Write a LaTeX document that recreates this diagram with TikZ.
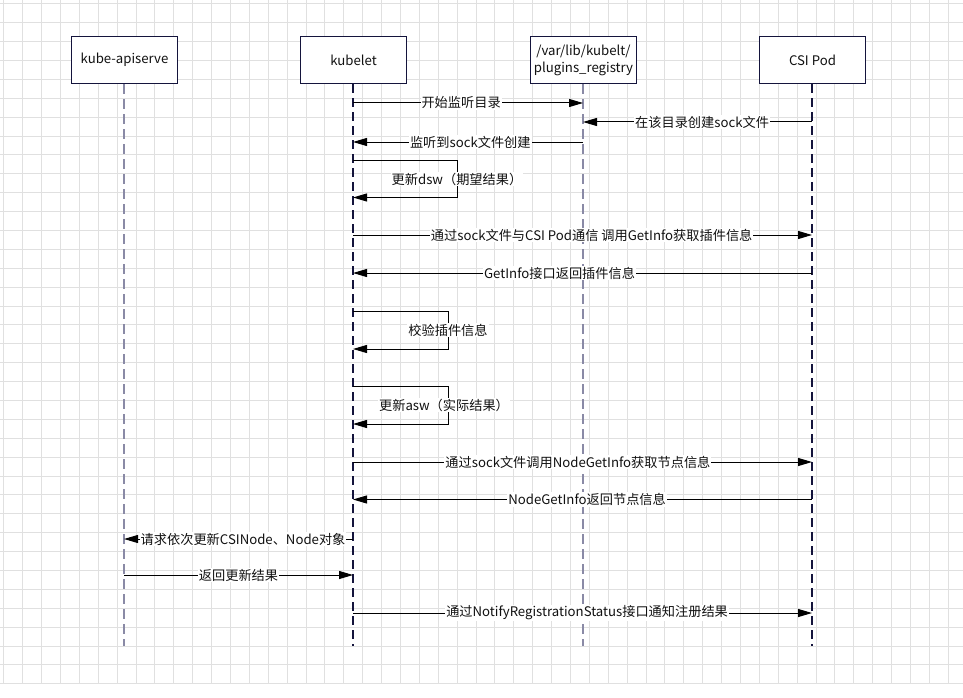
\documentclass[tikz,border=0pt]{standalone}
\usepackage{fontspec}
\setmainfont{Noto Sans CJK SC}
\usetikzlibrary{arrows.meta}
\definecolor{gridc}{HTML}{E0E0E0}
\definecolor{navy}{HTML}{14143C}
\definecolor{lifegray}{HTML}{8A8AA6}
\definecolor{txt}{HTML}{111111}
\tikzset{
  x=1pt, y=-1pt,
  actor/.style={draw=navy, line width=1.2pt, fill=white, minimum width=106pt, minimum height=47pt, inner sep=2pt, text=txt, font=\fontsize{13.2pt}{17pt}\selectfont, align=center},
  lifenavy/.style={draw=navy, line width=1.2pt, dash pattern=on 9pt off 5pt},
  lifegrey/.style={draw=lifegray, line width=2pt, dash pattern=on 10pt off 5pt},
  msg/.style={draw=black, line width=1pt, -{Triangle[length=14pt,width=8pt]}},
  lbl/.style={fill=white, inner sep=1pt, text=txt, font=\fontsize{13.2pt}{15pt}\selectfont},
}
\begin{document}
\begin{tikzpicture}
\useasboundingbox (0,0) rectangle (963,698);
\fill[white] (0,0) rectangle (963,698);
% grid
\foreach \k in {0,...,50} {
  \draw[gridc, line width=1pt] ({3.8+\k*18.89},0) -- ({3.8+\k*18.89},684);
}
\foreach \k in {0,...,36} {
  \draw[gridc, line width=1pt] (0,{3.8+\k*18.89}) -- (963,{3.8+\k*18.89});
}
% actors
\node[actor] (api) at (124.5,60) {kube-apiserve};
\node[actor] (kub) at (353.5,60) {kubelet};
\node[actor] (plg) at (583.5,60) {/var/lib/kubelt/\\plugins\_registry};
\node[actor] (csi) at (812.5,60) {CSI Pod};
% lifeline ends
\coordinate (apiE) at (124,646);
\coordinate (kubE) at (353,646);
\coordinate (plgE) at (583,646);
\coordinate (csiE) at (812,646);
\draw[lifegrey] (api.south -| apiE) -- (apiE);
\draw[lifenavy] (kub.south -| kubE) -- (kubE);
\draw[lifegrey] (plg.south -| plgE) -- (plgE);
\draw[lifenavy] (csi.south -| csiE) -- (csiE);
% message anchor points
\coordinate (k1) at (353,103);  \coordinate (p1) at (583,103);
\coordinate (c2) at (812,122);  \coordinate (p2) at (583,122);
\coordinate (p3) at (583,142);  \coordinate (k3) at (353,142);
\coordinate (k4a) at (353,160.5); \coordinate (r4a) at (457,160.5);
\coordinate (r4b) at (457,197.5); \coordinate (k4b) at (353,197.5);
\coordinate (k5) at (353,235);  \coordinate (c5) at (812,235);
\coordinate (c6) at (812,273);  \coordinate (k6) at (353,273);
\coordinate (k7a) at (353,311); \coordinate (r7a) at (448,311);
\coordinate (r7b) at (448,349); \coordinate (k7b) at (353,349);
\coordinate (k8a) at (353,386); \coordinate (r8a) at (448,386);
\coordinate (r8b) at (448,424); \coordinate (k8b) at (353,424);
\coordinate (k9) at (353,462);  \coordinate (c9) at (812,462);
\coordinate (c10) at (812,499.5); \coordinate (k10) at (353,499.5);
\coordinate (k11) at (353,539); \coordinate (a11) at (124,539);
\coordinate (a12) at (124,575); \coordinate (k12) at (353,575);
\coordinate (k13) at (353,613); \coordinate (c13) at (812,613);
% messages
\draw[msg] (k1) -- node[lbl, pos=0.47] {开始监听目录} (p1);
\draw[msg] (c2) -- node[lbl, pos=0.48] {在该目录创建sock文件} (p2);
\draw[msg] (p3) -- node[lbl, pos=0.49] {监听到sock文件创建} (k3);
\draw[msg] (k4a) -- (r4a) -- node[lbl] {更新dsw（期望结果）} (r4b) -- (k4b);
\draw[msg] (k5) -- node[lbl, pos=0.52] {通过sock文件与CSI Pod通信 调用GetInfo获取插件信息} (c5);
\draw[msg] (c6) -- node[lbl, pos=0.55] {GetInfo接口返回插件信息} (k6);
\draw[msg] (k7a) -- (r7a) -- node[lbl] {校验插件信息} (r7b) -- (k7b);
\draw[msg] (k8a) -- (r8a) -- node[lbl, xshift=-4pt] {更新asw（实际结果）} (r8b) -- (k8b);
\draw[msg] (k9) -- node[lbl, pos=0.49] {通过sock文件调用NodeGetInfo获取节点信息} (c9);
\draw[msg] (c10) -- node[lbl, pos=0.49] {NodeGetInfo返回节点信息} (k10);
\draw[msg] (k11) -- node[lbl, pos=0.48] {请求依次更新CSINode、Node对象} (a11);
\draw[msg] (a12) -- node[lbl] {返回更新结果} (k12);
\draw[msg] (k13) -- node[lbl, pos=0.51] {通过NotifyRegistrationStatus接口通知注册结果} (c13);
\end{tikzpicture}
\end{document}
